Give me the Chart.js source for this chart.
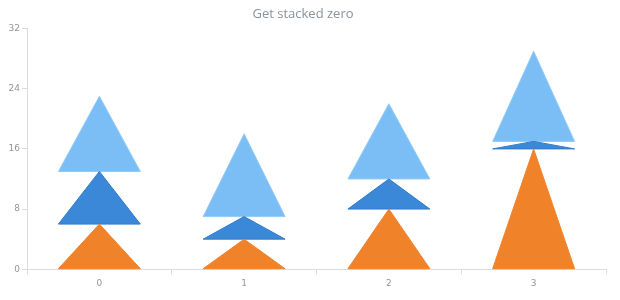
<!DOCTYPE html>
<html>
<head>
<meta charset="utf-8">
<script src="https://cdn.jsdelivr.net/npm/chart.js@4/dist/chart.umd.min.js"></script>
<style>
html,body{margin:0;padding:0;background:#fff;}
#wrap{width:620px;height:300px;position:relative;}
</style>
</head>
<body>
<div id="wrap"><canvas id="c"></canvas></div>
<script>
const categories = ['0', '1', '2', '3'];
const seriesA = [6, 4, 8, 16];
const seriesB = [7, 3, 4, 1];
const seriesC = [10, 11, 10, 12];
const yTicks = [0, 8, 16, 24, 32];

const colors = ['#F0822A', '#3B88D8', '#7BBEF5'];
const edges = ['#F0822A', '#2F7CCB', '#93CAF7'];

const triPlugin = {
  id: 'tri',
  beforeDatasetDraw(chart, args) {
    const meta = args.meta;
    const ctx = chart.ctx;
    const i = args.index;
    ctx.save();
    meta.data.forEach(bar => {
      const p = bar.getProps(['x', 'y', 'base', 'width'], true);
      ctx.beginPath();
      ctx.moveTo(p.x - p.width / 2, p.base);
      ctx.lineTo(p.x, p.y);
      ctx.lineTo(p.x + p.width / 2, p.base);
      ctx.closePath();
      ctx.fillStyle = colors[i];
      ctx.fill();
      ctx.lineWidth = 1;
      ctx.strokeStyle = edges[i];
      ctx.stroke();
    });
    ctx.restore();
    return false;
  }
};

new Chart(document.getElementById('c'), {
  type: 'bar',
  data: {
    labels: categories,
    datasets: [
      { data: seriesA, backgroundColor: colors[0] },
      { data: seriesB, backgroundColor: colors[1] },
      { data: seriesC, backgroundColor: colors[2] }
    ]
  },
  plugins: [triPlugin],
  options: {
    responsive: true,
    maintainAspectRatio: false,
    animation: false,
    layout: { padding: { left: 0, right: 14, top: 0, bottom: 7 } },
    plugins: {
      legend: { display: false },
      tooltip: { enabled: false },
      title: {
        display: true,
        text: 'Get stacked zero',
        color: '#8a939b',
        font: { family: 'Open Sans', size: 13, weight: 'normal' },
        padding: { top: 6, bottom: 7 }
      }
    },
    datasets: { bar: { categoryPercentage: 1, barPercentage: 0.566 } },
    scales: {
      x: {
        stacked: true,
        grid: { display: true, drawOnChartArea: false, offset: true, tickLength: 5, color: '#dcdcdc' },
        border: { color: '#dcdcdc' },
        ticks: { color: '#8f969c', font: { family: 'DejaVu Sans', size: 9 }, padding: 4 }
      },
      y: {
        stacked: true,
        min: 0,
        max: 32,
        afterBuildTicks(scale) { scale.ticks = yTicks.map(v => ({ value: v })); },
        afterFit(scale) { scale.width = 27; },
        grid: { display: true, drawOnChartArea: false, tickLength: 5, color: '#dcdcdc' },
        border: { color: '#dcdcdc' },
        ticks: { color: '#8f969c', font: { family: 'DejaVu Sans', size: 9 }, padding: 2 }
      }
    }
  }
});
</script>
</body>
</html>
